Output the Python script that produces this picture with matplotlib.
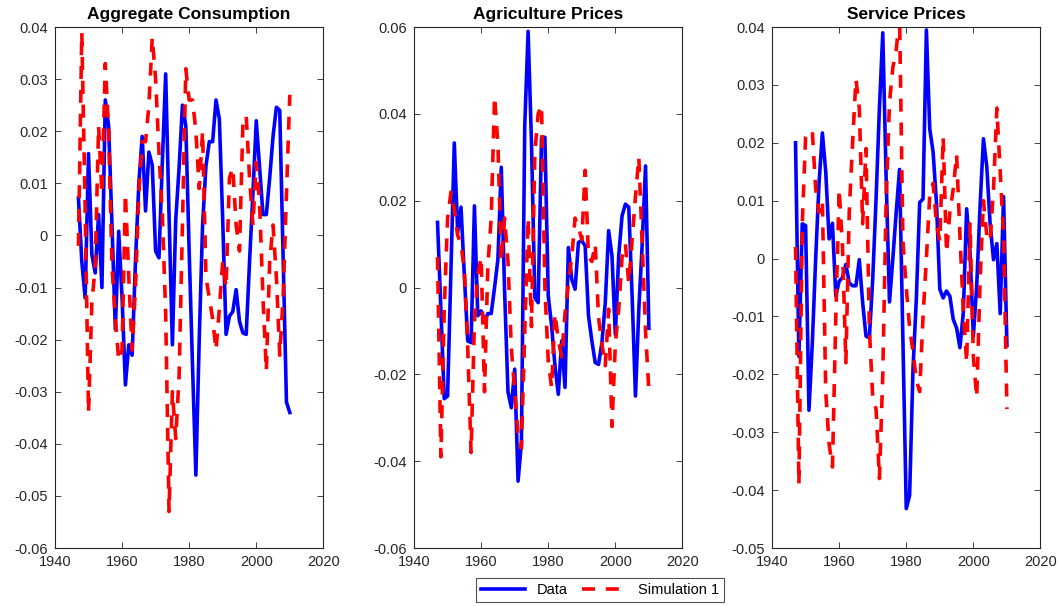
import numpy as np
import matplotlib
matplotlib.use("Agg")
import matplotlib.pyplot as plt
from matplotlib.ticker import FuncFormatter

years = np.arange(1947, 2011)

cons_data = [0.0072, -0.005, -0.012, 0.0157, -0.0037, -0.0072, 0.004, -0.010, 0.026, 0.021,
             0.002, -0.018, 0.0008, -0.012, -0.0287, -0.021, -0.023, -0.005, 0.010, 0.019,
             0.0047, 0.016, 0.0135, -0.003, -0.0043, 0.014, 0.031, 0.004, -0.021, 0.003,
             0.013, 0.025, 0.021, -0.003, -0.025, -0.046, -0.020, 0.002, 0.0133, 0.018,
             0.018, 0.026, 0.0223, 0.003, -0.019, -0.0155, -0.0146, -0.0104, -0.0165, -0.0187,
             -0.019, -0.005, 0.008, 0.022, 0.013, 0.004, 0.004, 0.011, 0.019, 0.0246,
             0.024, -0.004, -0.032, -0.034]
cons_sim = [-0.002, 0.039, 0.005, -0.034, -0.013, -0.006, 0.021, 0.008, 0.033, 0.020,
            -0.006, -0.016, -0.024, -0.022, 0.008, -0.008, -0.022, -0.010, 0.008, 0.018,
            0.018, 0.025, 0.038, 0.030, 0.016, 0.004, -0.015, -0.053, -0.030, -0.039,
            -0.027, 0.002, 0.032, 0.026, 0.026, 0.020, 0.009, 0.020, -0.008, -0.012,
            -0.016, -0.022, -0.014, -0.005, -0.010, 0.011, 0.013, 0.002, -0.003, 0.021,
            0.023, 0.011, 0.002, 0.014, 0.006, -0.012, -0.026, -0.005, 0.002, -0.008,
            -0.023, -0.012, 0.008, 0.027]

agri_data = [0.015, -0.005, -0.0256, -0.025, 0.004, 0.0333, 0.0127, 0.0185, 0.0027, -0.0123,
             -0.0127, 0.0188, -0.0065, -0.0054, -0.0077, -0.006, -0.006, 0.0, 0.0065, 0.0277,
             -0.001, -0.024, -0.0277, -0.0188, -0.0446, -0.0358, 0.0373, 0.059, 0.0335, -0.0023,
             -0.0035, 0.0346, 0.0346, -0.0019, -0.0088, -0.018, -0.0246, -0.0123, -0.023, 0.0092,
             0.0019, -0.0004, 0.0104, 0.0108, 0.0096, -0.0065, -0.0123, -0.0173, -0.0177, -0.0127,
             -0.0035, 0.0131, 0.0073, -0.0108, 0.0073, 0.0165, 0.0192, 0.0185, -0.002, -0.025,
             -0.005, 0.010, 0.028, -0.0094]
agri_sim = [0.007, -0.039, -0.005, 0.016, 0.022, 0.018, 0.012, 0.010, 0.004, -0.014,
            -0.038, -0.008, 0.003, 0.007, -0.024, 0.005, 0.016, 0.044, 0.033, 0.006,
            0.016, 0.006, -0.014, -0.024, -0.034, -0.037, -0.010, 0.016, -0.009, 0.031,
            0.040, 0.042, 0.000, -0.017, -0.023, -0.006, -0.012, -0.016, -0.006, 0.001,
            0.007, 0.016, 0.014, 0.011, 0.027, 0.007, 0.006, 0.010, -0.007, -0.013,
            -0.018, -0.005, -0.032, -0.013, -0.005, 0.007, 0.010, 0.001, 0.011, 0.021,
            0.030, 0.010, -0.010, -0.024]

serv_data = [0.020, -0.0169, 0.006, 0.0057, -0.0262, -0.0146, 0.0, 0.013, 0.0217, 0.015,
             0.0034, 0.0061, -0.0065, -0.0039, -0.0033, -0.001, -0.0042, -0.0047, -0.0047, -0.0002,
             -0.0076, -0.0134, -0.0137, -0.0036, 0.0103, 0.026, 0.039, 0.014, -0.0075, 0.0,
             0.008, 0.0154, -0.014, -0.0432, -0.0409, -0.0192, -0.007, 0.0097, 0.0103, 0.0395,
             0.0224, 0.0184, 0.0097, -0.0053, -0.0068, -0.0056, -0.0065, -0.0105, -0.012, -0.0154,
             -0.0094, 0.0086, 0.0011, -0.0134, -0.0047, 0.0091, 0.0207, 0.0159, 0.006, -0.0002,
             0.0026, -0.0095, 0.0107, -0.015]
serv_sim = [0.002, -0.039, 0.006, 0.021, 0.022, 0.022, 0.012, 0.008, 0.010, -0.023,
            -0.032, -0.036, -0.010, 0.012, 0.002, -0.018, 0.008, 0.020, 0.031, 0.026,
            0.006, 0.019, -0.012, -0.024, -0.026, -0.038, -0.020, 0.010, 0.027, 0.033,
            0.036, 0.042, 0.003, -0.005, -0.012, -0.016, -0.021, -0.023, -0.010, 0.000,
            0.011, 0.013, 0.006, 0.003, 0.021, 0.001, 0.008, 0.012, 0.018, 0.004,
            -0.009, -0.018, 0.006, -0.017, -0.024, -0.004, 0.010, 0.004, 0.003, 0.012,
            0.026, 0.015, 0.004, -0.026]

titles = ["Aggregate Consumption", "Agriculture Prices", "Service Prices"]
data_series = [cons_data, agri_data, serv_data]
sim_series = [cons_sim, agri_sim, serv_sim]
ylims = [(-0.06, 0.04), (-0.06, 0.06), (-0.05, 0.04)]
ysteps = [0.01, 0.02, 0.01]

plt.rcParams['font.family'] = ['Liberation Sans', 'DejaVu Sans']

fig = plt.figure(figsize=(10.63, 6.06), dpi=100)
lefts = [0.0517, 0.3895, 0.7263]
gray = '#262626'

for i in range(3):
    ax = fig.add_axes([lefts[i], 0.0957, 0.2525, 0.8597])
    l1, = ax.plot(years, data_series[i], color='#0000ff', lw=2.6, label='Data')
    l2, = ax.plot(years, sim_series[i], color='#ff0000', lw=2.6, linestyle=(0, (3.6, 3.0)),
                  label='Simulation 1')
    ax.set_xlim(1940, 2020)
    ax.set_ylim(*ylims[i])
    ax.set_xticks(np.arange(1940, 2021, 20))
    lo, hi = ylims[i]
    ax.set_yticks(np.arange(lo, hi + 1e-9, ysteps[i]))
    ax.yaxis.set_major_formatter(FuncFormatter(lambda v, p: '%g' % round(v, 4)))
    ax.tick_params(direction='in', top=True, right=True, length=4, width=0.6,
                   colors=gray, labelsize=10.5, pad=5)
    for s in ax.spines.values():
        s.set_color(gray)
        s.set_linewidth(0.8)
    ax.set_title(titles[i], fontsize=12.5, fontweight='bold', pad=6)

leg = fig.legend([l1, l2], ['Data', 'Simulation 1'], loc='lower center', ncol=2,
                 bbox_to_anchor=(0.5645, -0.006), fontsize=10.5, frameon=True, fancybox=False,
                 handlelength=3.0, columnspacing=1.0, borderpad=0.35, handletextpad=0.8)
leg.get_frame().set_edgecolor(gray)
leg.get_frame().set_linewidth(0.8)

fig.savefig('out.png', dpi=100)
